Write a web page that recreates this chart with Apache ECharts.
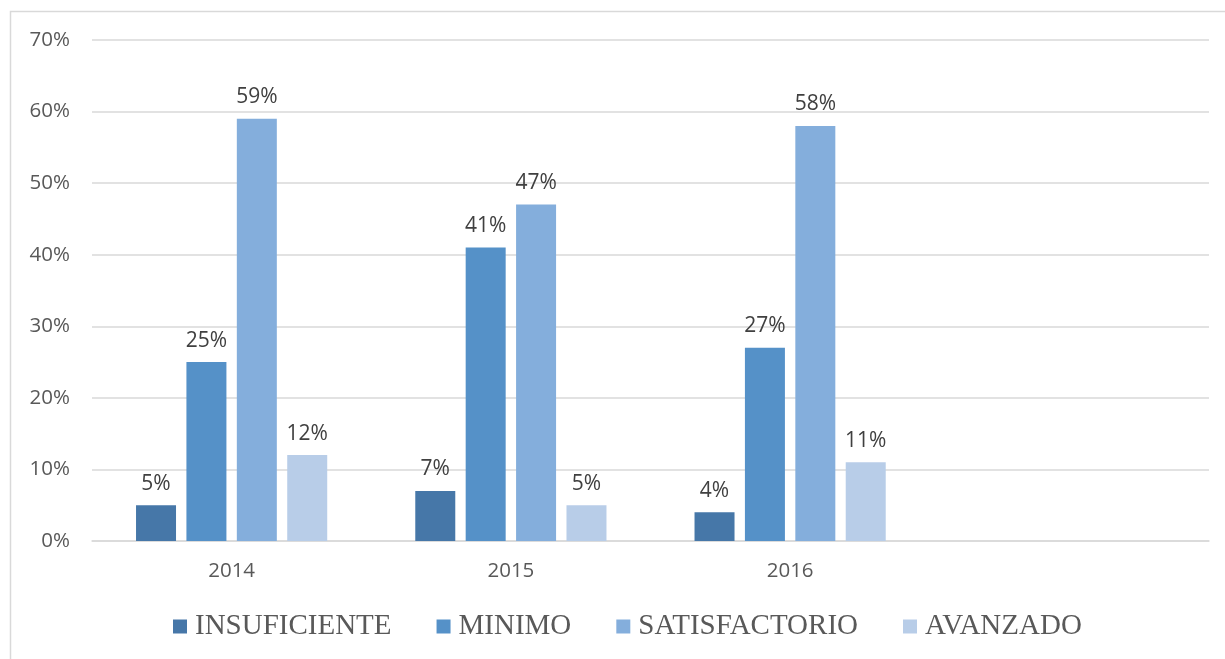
<!DOCTYPE html>
<html>
<head>
<meta charset="utf-8">
<script src="https://cdn.jsdelivr.net/npm/echarts@6/dist/echarts.min.js"></script>
<style>
  html, body { margin: 0; padding: 0; background: #fff; }
  #chart { width: 1225px; height: 659px; }
</style>
</head>
<body>
<div id="chart"></div>
<script>
// data
const years = ['2014', '2015', '2016', ''];
const seriesNames = ['INSUFICIENTE', 'MINIMO', 'SATISFACTORIO', 'AVANZADO'];
const insuficiente = [5, 7, 4, null];
const minimo = [25, 41, 27, null];
const satisfactorio = [59, 47, 58, null];
const avanzado = [12, 5, 11, null];
const colors = ['#4677a8', '#5591c8', '#84aedc', '#b8cde8'];

const chart = echarts.init(document.getElementById('chart'));

const makeSeries = (name, data, i) => ({
    name: name,
    type: 'bar',
    data: data,
    barWidth: 40,
    barGap: '26%',
    itemStyle: { color: colors[i] },
    label: {
        show: true,
        position: 'top',
        distance: 11,
        formatter: p => p.value + '%',
        color: '#404040',
        fontSize: 21,
        fontFamily: 'Open Sans'
    }
});

chart.setOption({
    animation: false,
    color: colors,
    graphic: [{
        type: 'rect',
        shape: { x: 10.5, y: 11.5, width: 1230, height: 700 },
        style: { fill: 'none', stroke: '#d9d9d9', lineWidth: 1.5 },
        silent: true
    }],
    grid: { left: 92, right: 16, top: 40, bottom: 118 },
    legend: {
        bottom: 13,
        left: 168,
        itemWidth: 14,
        itemHeight: 14,
        itemGap: 45,
        icon: 'rect',
        textStyle: { fontFamily: 'Liberation Serif', fontSize: 29, color: '#595959', padding: [0, 0, 0, 3] },
        data: seriesNames
    },
    xAxis: {
        type: 'category',
        data: years,
        axisLine: { lineStyle: { color: '#d9d9d9', width: 1.5 } },
        axisTick: { show: false },
        axisLabel: { color: '#595959', fontSize: 20.5, fontFamily: 'Open Sans', margin: 20 }
    },
    yAxis: {
        type: 'value',
        min: 0,
        max: 70,
        interval: 10,
        axisLine: { show: false },
        axisTick: { show: false },
        splitLine: { lineStyle: { color: '#d9d9d9', width: 1.5 } },
        axisLabel: {
            formatter: v => v + '%',
            color: '#595959',
            fontSize: 20.5,
            fontFamily: 'Open Sans',
            margin: 22
        }
    },
    series: [
        makeSeries(seriesNames[0], insuficiente, 0),
        makeSeries(seriesNames[1], minimo, 1),
        makeSeries(seriesNames[2], satisfactorio, 2),
        makeSeries(seriesNames[3], avanzado, 3)
    ]
});
</script>
</body>
</html>
